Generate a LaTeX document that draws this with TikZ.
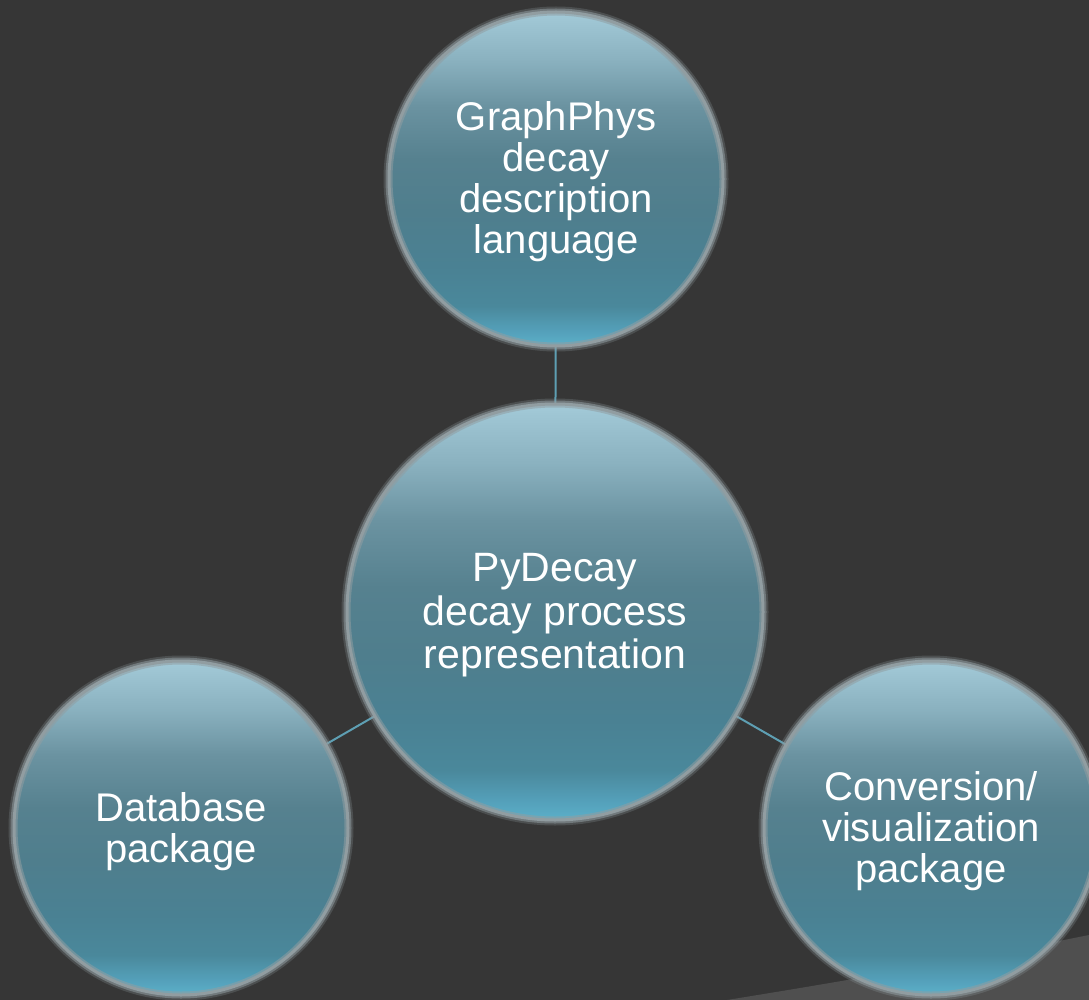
\documentclass[tikz,border=0pt]{standalone}
\usepackage{fontspec}
\setmainfont{Liberation Sans}
\usetikzlibrary{backgrounds}

\definecolor{slate}{HTML}{363636}
\definecolor{foldgrey}{HTML}{4F4F4F}
\definecolor{ringgrey}{HTML}{919DA1}
\definecolor{linkblue}{HTML}{5E9FB3}
\definecolor{bTop}{HTML}{A3CAD8}
\definecolor{bA}{HTML}{8BB2C0}
\definecolor{bB}{HTML}{6B93A1}
\definecolor{bC}{HTML}{56818F}
\definecolor{bD}{HTML}{4F7E8D}
\definecolor{bE}{HTML}{4A8193}
\definecolor{bF}{HTML}{4A889B}
\definecolor{bG}{HTML}{55A2BC}
\definecolor{bBot}{HTML}{5CB0C9}

% teal bubble fill, light at the top, darker in the middle, bright rim at the bottom
\pgfdeclareverticalshading{bubble}{100bp}{%
  color(0bp)=(bBot); color(25bp)=(bBot); color(27bp)=(bG); color(31bp)=(bF);
  color(37bp)=(bE); color(45bp)=(bD); color(53bp)=(bC); color(61bp)=(bB);
  color(68bp)=(bA); color(75bp)=(bTop); color(100bp)=(bTop)}

\tikzset{
  bubblenode/.style={circle, inner sep=0pt, outer sep=0pt,
    shading=bubble, text=white, align=center, text depth=2pt,
    font=\fontsize{40}{41}\selectfont,
    preaction={draw=ringgrey, line width=11pt, draw opacity=0.25},
    postaction={draw=ringgrey, line width=7pt, draw opacity=0.55},
    postaction={draw=ringgrey, line width=3pt}},
  hubfont/.style={font=\fontsize{41}{43.5}\selectfont},
  linkline/.style={draw=linkblue, line width=2pt}
}

\begin{document}
\begin{tikzpicture}[x=1pt, y=-1pt]
  \useasboundingbox (0,0) rectangle (1089,1000);

  % bubbles
  \node[bubblenode, minimum size=334pt] (gp) at (556,179)
    {GraphPhys\\decay\\description\\language};
  \node[bubblenode, hubfont, minimum size=416pt] (pd) at (555,612)
    {PyDecay\\decay process\\representation};
  \node[bubblenode, minimum size=334pt] (db) at (181,828)
    {Database\\package};
  \node[bubblenode, minimum size=334pt] (cv) at (931,828)
    {Conversion/\\visualization\\package};

  \begin{scope}[on background layer]
    % page and its folded corner
    \fill[slate] (0,0) rectangle (1089,1000);
    \fill[foldgrey] (727,1000) .. controls (900,972) and (1000,953) .. (1089,935)
      -- (1089,1000) -- cycle;
    % links between the hub and the outer bubbles
    \draw[linkline] (gp) -- (pd);
    \draw[linkline] (db) -- (pd);
    \draw[linkline] (cv) -- (pd);
  \end{scope}
\end{tikzpicture}
\end{document}
